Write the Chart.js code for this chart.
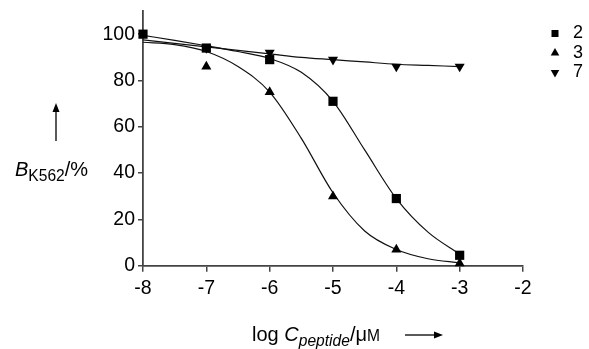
<!DOCTYPE html>
<html>
<head>
<meta charset="utf-8">
<script src="https://cdn.jsdelivr.net/npm/chart.js@4.4.1/dist/chart.umd.min.js"></script>
<style>
  html, body { margin: 0; padding: 0; background: #fff; }
  #wrap { position: relative; width: 589px; height: 349px; font-family: "Liberation Sans", Arial, sans-serif; color: #000; }
  #chart { position: absolute; left: 0; top: 0; }
  .axt { position: absolute; font-size: 20px; line-height: 1; white-space: nowrap; }
  .axt sub { font-size: 0.78em; vertical-align: -0.3em; line-height: 0; }
  .sc { font-size: 0.78em; }
  svg { position: absolute; left: 0; top: 0; }
</style>
</head>
<body>
<div id="wrap">
  <canvas id="chart" width="589" height="349"></canvas>
  <div class="axt" style="left:15px; top:159px;"><i>B</i><sub>K562</sub>/%</div>
  <div class="axt" style="left:252px; top:324px;">log <i>C<sub>peptide</sub></i>/μ<span class="sc">M</span></div>
  <svg width="589" height="349">
    <line x1="56" y1="141" x2="56" y2="110" stroke="#000" stroke-width="1.3"/>
    <polygon points="56,103 52.5,112 59.5,112" fill="#000"/>
    <line x1="405" y1="335" x2="436" y2="335" stroke="#000" stroke-width="1.3"/>
    <polygon points="443,335 434,331.5 434,338.5" fill="#000"/>
  </svg>
</div>
<script>
// log concentration of peptide (x) and remaining viability in %
const xTicks = [-8, -7, -6, -5, -4, -3, -2];
const yTicks = [0, 20, 40, 60, 80, 100];
const doses = [-8, -7, -6, -5, -4, -3];
const pep2 = [100, 94, 89, 71, 29, 4.5];
const pep3 = [null, 86, 75, 30, 7, 1];
const pep7 = [null, 94, 92, 89, 86, 86];

// fitted curves, every half log unit
const fitX = [-8, -7.5, -7, -6.5, -6, -5.5, -5, -4.5, -4, -3.5, -3];
const fit2 = [99.5, 97.3, 95, 92.5, 89.5, 83.5, 71, 50, 29, 14.5, 5];
const fit3 = [96.5, 95.5, 92.5, 86, 75, 55, 31.5, 15, 7, 3, 1.2];
const fit7 = [97.5, 96, 94.5, 93, 91.5, 90, 89, 88, 87, 86.5, 86];

const fam = '"Liberation Sans", Arial, sans-serif';

function pts(xs, ys) {
  return xs.map((x, i) => ({ x: x, y: ys[i] }));
}

function markers(label, ys, style, rot, r) {
  return {
    label: label,
    data: pts(doses, ys),
    showLine: false,
    pointStyle: style,
    pointRotation: rot,
    pointRadius: r,
    pointHoverRadius: r,
    pointBackgroundColor: "#000",
    pointBorderColor: "#000",
    pointBorderWidth: 0,
    borderColor: "#000",
    backgroundColor: "#000",
    clip: false,
  };
}

function curve(ys) {
  return {
    label: "fit",
    data: pts(fitX, ys),
    borderColor: "#111",
    borderWidth: 1.2,
    pointRadius: 0,
    cubicInterpolationMode: "monotone",
    fill: false,
  };
}

// push the legend a bit away from the plot, like in the figure
const legendShift = {
  id: "legendShift",
  afterLayout(chart) {
    const lg = chart.legend;
    const dx = 544.5 - lg.left;
    lg.left += dx;
    lg.right += dx;
  },
};

const ctx = document.getElementById("chart").getContext("2d");

const grafico = new Chart(ctx, {
  type: "line",
  data: {
    datasets: [
      markers("2", pep2, "rect", 0, 6.5),
      markers("3", pep3, "triangle", 0, 5.8),
      markers("7", pep7, "triangle", 180, 5.8),
      curve(fit2),
      curve(fit3),
      curve(fit7),
    ],
  },
  options: {
    responsive: false,
    animation: false,
    devicePixelRatio: 1,
    layout: { padding: 0 },
    plugins: {
      tooltip: { enabled: false },
      legend: {
        position: "right",
        align: "start",
        title: { display: true, text: " ", font: { size: 10 }, padding: { top: 11, bottom: 0 } },
        labels: {
          usePointStyle: true,
          boxWidth: 18,
          boxHeight: 7,
          padding: 1.5,
          color: "#000",
          font: { family: fam, size: 18 },
          filter: (item) => item.datasetIndex < 3,
        },
      },
    },
    scales: {
      x: {
        type: "linear",
        min: -8,
        max: -2,
        afterBuildTicks: (s) => { s.ticks = xTicks.map((v) => ({ value: v })); },
        afterFit: (s) => { s.height = 83.3; s.paddingRight = 66; },
        ticks: { color: "#000", font: { family: fam, size: 19.5 }, padding: 5 },
        grid: { drawOnChartArea: false, drawTicks: true, tickLength: 6, color: "#444", lineWidth: 1.5 },
        border: { display: true, color: "#444", width: 1.8 },
      },
      y: {
        type: "linear",
        min: 0,
        max: 110,
        afterBuildTicks: (s) => { s.ticks = yTicks.map((v) => ({ value: v })); },
        afterFit: (s) => { s.width = 143; s.paddingTop = 11; s.paddingBottom = 0; },
        ticks: { color: "#000", font: { family: fam, size: 19.5 }, padding: 3 },
        grid: { drawOnChartArea: false, drawTicks: true, tickLength: 5, color: "#444", lineWidth: 1.5 },
        border: { display: true, color: "#444", width: 1.8 },
      },
    },
  },
  plugins: [legendShift],
});
</script>
</body>
</html>
